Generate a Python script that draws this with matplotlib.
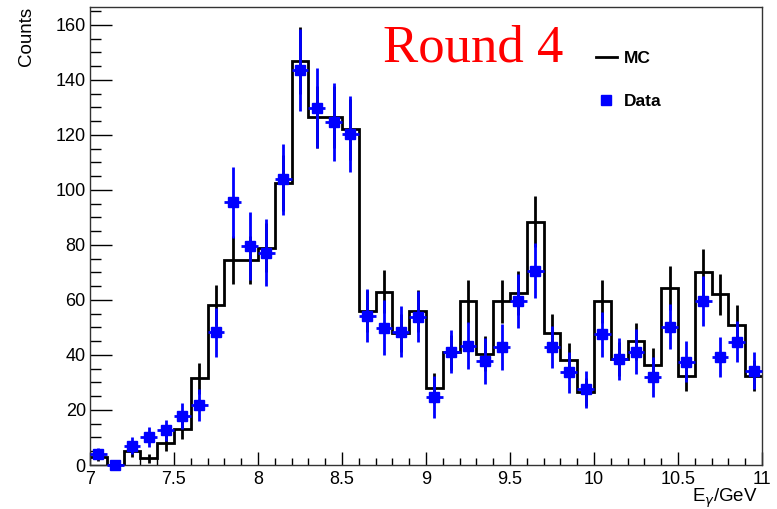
import numpy as np
import matplotlib
matplotlib.use("Agg")
import matplotlib.pyplot as plt
from matplotlib.lines import Line2D
from matplotlib.ticker import MultipleLocator

plt.rcParams['font.family'] = ['Liberation Sans', 'DejaVu Sans']

# 40 bins of 0.1 GeV between 7 and 11 GeV
bin_edges = np.round(np.arange(7.0, 11.0001, 0.1), 2)
bin_centers = 0.5 * (bin_edges[:-1] + bin_edges[1:])

mc_counts = [3, 0, 5, 2.5, 8, 13, 31.5, 58, 74.5, 74.5,
             79, 102.5, 147, 126.5, 126.5, 122, 56, 63, 48, 56,
             28, 41, 59.5, 40.5, 59.5, 62.5, 88.5, 48, 38, 26.5,
             59.5, 38.5, 45, 36.5, 64.5, 32.5, 70, 62, 51, 32.5]
mc_errors = [1.7, 0, 2.2, 1.6, 2.8, 3.6, 5.6, 7.6, 8.6, 8.6,
             8.9, 10.1, 12.1, 11.2, 11.2, 11.0, 7.5, 7.9, 6.9, 7.5,
             5.3, 6.4, 7.7, 6.4, 7.7, 7.9, 9.4, 6.9, 6.2, 5.1,
             7.7, 6.2, 6.7, 6.0, 8.0, 5.7, 8.4, 7.5, 7.1, 5.7]

data_counts = [4, 0, 7, 10.3, 12.7, 17.9, 21.8, 48.2, 95.5, 79.6,
               77.2, 103.9, 143.6, 129.9, 124.8, 120.4, 54.3, 49.9, 48.5, 53.9,
               24.8, 41.2, 43.4, 37.8, 43.0, 59.6, 70.7, 43.0, 33.7, 27.5,
               47.6, 38.5, 41.2, 32.1, 50.3, 37.6, 59.6, 39.2, 44.8, 34.2]
data_errors = [2, 0, 3, 3.6, 3.8, 4.7, 5.8, 9, 13, 12.3,
               12.3, 12.9, 15, 14.5, 14.2, 13.9, 9.7, 10, 9.2, 9.2,
               7.6, 7.7, 8.5, 8.3, 8.4, 9.7, 10, 7.7, 7.5, 6.7,
               8.2, 7.6, 8.1, 7.2, 8.2, 7.3, 9, 7.3, 7.4, 6.7]

fig = plt.figure(figsize=(7.77, 5.09), dpi=100)
ax = fig.add_axes([90 / 777, 1 - 465 / 509, 672 / 777, 458 / 509])

# MC histogram with its statistical errors
ax.stairs(mc_counts, bin_edges, baseline=None, color='black', lw=2, zorder=2)
ax.errorbar(bin_centers, mc_counts, yerr=mc_errors, fmt='none',
            ecolor='black', elinewidth=2, capsize=0, zorder=2)

# data points
ax.errorbar(bin_centers, data_counts, yerr=data_errors, xerr=0.05, fmt='s',
            color='#0000ff', ms=7, elinewidth=2, capsize=0, zorder=3,
            clip_on=False)

ax.set_xlim(7, 11)
ax.set_ylim(0, 166.5)

ax.xaxis.set_major_locator(MultipleLocator(0.5))
ax.xaxis.set_minor_locator(MultipleLocator(0.1))
ax.yaxis.set_major_locator(MultipleLocator(20))
ax.yaxis.set_minor_locator(MultipleLocator(5))
ax.xaxis.set_major_formatter(plt.FuncFormatter(lambda v, p: f"{v:g}"))

ax.tick_params(axis='x', which='major', direction='in', length=9.7, width=1,
               labelsize=13, pad=4)
ax.tick_params(axis='x', which='minor', direction='in', length=4.9, width=1)
ax.tick_params(axis='y', which='major', direction='in', length=15.6, width=1,
               labelsize=13, pad=3)
ax.tick_params(axis='y', which='minor', direction='in', length=7.8, width=1)
for sp in ax.spines.values():
    sp.set_linewidth(1)
    sp.set_color('#333333')

fig.text(26 / 777, 1 - 7 / 509, 'Counts', rotation=90, ha='center', va='top',
         fontsize=13.5)
fig.text(758 / 777, 1 - 486 / 509, r'E$_\gamma$/GeV', ha='right', va='top',
         fontsize=13.5)

fig.text(383 / 777, 1 - 62 / 509, 'Round 4', color='red', fontsize=38,
         family='Liberation Serif', ha='left', va='baseline')

handles = [Line2D([], [], color='black', lw=2),
           Line2D([], [], color='#0000ff', marker='s', ls='none', ms=7)]
ax.legend(handles, ['MC', 'Data'], loc='upper left', frameon=False,
          bbox_to_anchor=(596 / 777, 1 - 51 / 509), bbox_transform=fig.transFigure,
          handlelength=1.2, handletextpad=0.4, labelspacing=1.6,
          borderpad=0, borderaxespad=0, prop={'weight': 'bold', 'size': 12.5})

fig.savefig('out.png', dpi=100)
